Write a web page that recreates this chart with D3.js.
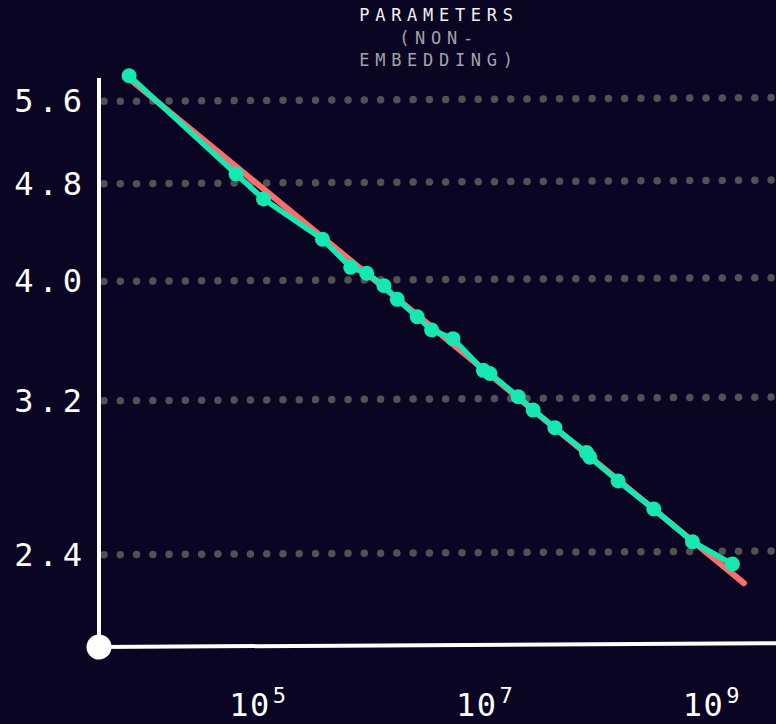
<!DOCTYPE html>
<html>
<head>
<meta charset="utf-8">
<script src="https://cdn.jsdelivr.net/npm/d3@7"></script>
<style>
  html, body { margin: 0; padding: 0; background: #0a0522; }
  svg { display: block; }
  text { font-family: "DejaVu Sans Mono", "Liberation Mono", monospace; }
</style>
</head>
<body>
<svg id="chart" width="776" height="724"></svg>
<script>
// Non-embedding parameter count of each model
const params = [7.23e3, 6.35e4, 1.109e5, 3.675e5, 6.52e5, 9.02e5, 1.281e6, 1.679e6,
  2.519e6, 3.375e6, 5.2e6, 9.66e6, 1.102e7, 1.958e7, 2.656e7, 4.126e7, 7.85e7,
  8.40e7, 1.492e8, 3.08e8, 6.76e8, 1.522e9];
// Test loss reached by each model
const losses = [5.873, 4.882, 4.658, 4.318, 4.096, 4.050, 3.956, 3.856,
  3.732, 3.640, 3.581, 3.374, 3.354, 3.211, 3.131, 3.029, 2.890,
  2.865, 2.740, 2.599, 2.444, 2.343];

// Power-law fit L = (N / Nc) ^ -alpha, drawn over this parameter span
const fitAlpha = 0.076;
const fitNc = 8.8e13;
const fitSpan = [7.2e3, 1.92e9];

const yTickValues = [5.6, 4.8, 4.0, 3.2, 2.4];
const yTickLabels = ["5.6", "4.8", "4.0", "3.2", "2.4"];
const xTickValues = [1e5, 1e7, 1e9];
const xTickBase = "10";
const xTickExponents = ["5", "7", "9"];
const titleLines = ["PARAMETERS", "(NON-", "EMBEDDING)"];

const originX = 99, originY = 647;

const svg = d3.select("#chart");

const x = d3.scaleLog().domain([4e3, 4e9]).range([100, 780]);
const y = d3.scaleLog().domain([2.02, 5.85]).range([originY, 78]);

// Title
const title = svg.append("text")
  .attr("x", 439)
  .attr("y", 21)
  .attr("text-anchor", "middle")
  .style("font-size", "17px")
  .style("letter-spacing", "5.7px");
title.selectAll("tspan")
  .data(titleLines)
  .join("tspan")
  .attr("x", 439)
  .attr("dy", (d, i) => i === 0 ? 0 : 22.5)
  .attr("fill", (d, i) => i === 0 ? "#f2f2f2" : "#a3a3a8")
  .text(d => d);

// Plot body, slightly sheared
const plot = svg.append("g")
  .attr("transform", `translate(${originX},${originY}) skewY(-0.32) translate(${-originX},${-originY})`);

// Dotted grid lines
plot.append("g")
  .selectAll("line")
  .data(yTickValues)
  .join("line")
  .attr("x1", 104)
  .attr("x2", 800)
  .attr("y1", d => y(d))
  .attr("y2", d => y(d))
  .attr("stroke", "#525254")
  .attr("stroke-width", 7.5)
  .attr("stroke-linecap", "round")
  .attr("stroke-dasharray", "0 16.27");

// Axis lines
plot.append("line")
  .attr("x1", originX).attr("x2", originX)
  .attr("y1", y(5.85)).attr("y2", originY)
  .attr("stroke", "#ffffff").attr("stroke-width", 4);
plot.append("line")
  .attr("x1", originX).attr("x2", 800)
  .attr("y1", originY).attr("y2", originY)
  .attr("stroke", "#ffffff").attr("stroke-width", 4);

// Fit line
const fitPoints = fitSpan.map(n => ({ n, l: Math.pow(n / fitNc, -fitAlpha) }));
const line = d3.line().x(d => x(d.n)).y(d => y(d.l));
plot.append("path")
  .datum(fitPoints)
  .attr("d", line)
  .attr("fill", "none")
  .attr("stroke", "#fa6e6e")
  .attr("stroke-width", 6)
  .attr("stroke-linecap", "round");

// Measured losses
const points = params.map((n, i) => ({ n, l: losses[i] }));
plot.append("path")
  .datum(points)
  .attr("d", line)
  .attr("fill", "none")
  .attr("stroke", "#16e8b2")
  .attr("stroke-width", 5.5)
  .attr("stroke-linejoin", "round");
plot.append("g")
  .selectAll("circle")
  .data(points)
  .join("circle")
  .attr("cx", d => x(d.n))
  .attr("cy", d => y(d.l))
  .attr("r", 7.5)
  .attr("fill", "#16e8b2");

// Origin marker
plot.append("circle")
  .attr("cx", originX).attr("cy", originY)
  .attr("r", 12.5)
  .attr("fill", "#ffffff");

// Y tick labels
const yAxis = d3.axisLeft(y)
  .tickValues(yTickValues)
  .tickFormat((d, i) => yTickLabels[i])
  .tickSize(0)
  .tickPadding(12);
const yAxisG = svg.append("g")
  .attr("transform", `translate(${originX},0)`)
  .call(yAxis);
yAxisG.select(".domain").remove();
yAxisG.selectAll("text")
  .attr("fill", "#ffffff")
  .style("font-size", "32px")
  .style("font-family", "'DejaVu Sans Mono', monospace")
  .style("letter-spacing", "5px");

// X tick labels with superscript exponents
const xLabels = svg.append("g")
  .selectAll("text")
  .data(xTickValues)
  .join("text")
  .attr("x", d => x(d))
  .attr("y", 716)
  .attr("text-anchor", "middle")
  .attr("fill", "#ffffff")
  .style("font-size", "32px")
  .style("letter-spacing", "1.5px");
xLabels.append("tspan").text(xTickBase);
xLabels.append("tspan")
  .attr("dx", 2)
  .attr("dy", -13)
  .style("font-size", "22px")
  .text((d, i) => xTickExponents[i]);
</script>
</body>
</html>
